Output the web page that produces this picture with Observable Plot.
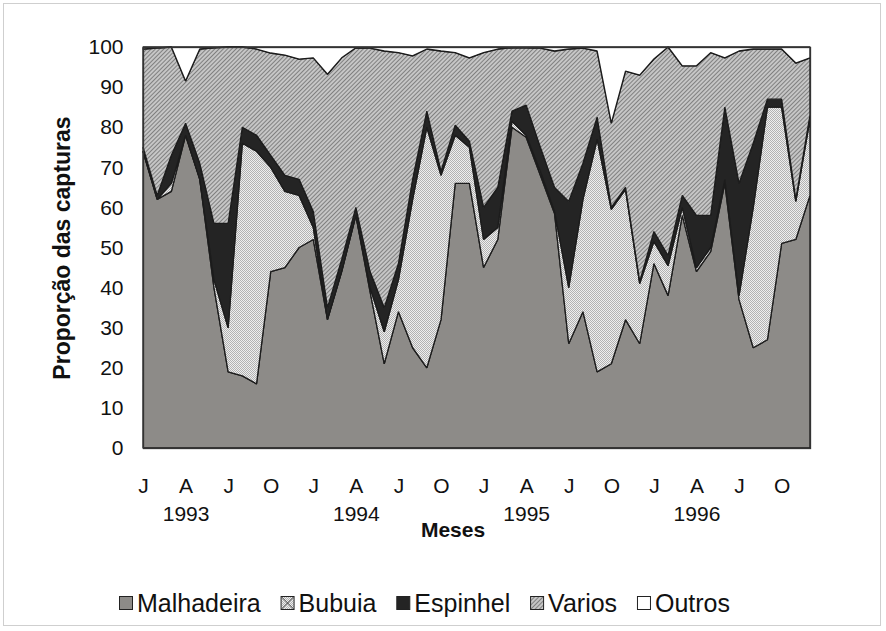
<!DOCTYPE html>
<html>
<head>
<meta charset="utf-8">
<script src="https://cdn.jsdelivr.net/npm/d3@7"></script>
<script src="https://cdn.jsdelivr.net/npm/@observablehq/plot@0.6"></script>
<style>
  html, body { margin: 0; padding: 0; background: #fff; }
  #wrap { position: relative; width: 886px; height: 631px; overflow: hidden; }
  #border { position: absolute; left: 3px; top: 3px; width: 878px; height: 623px; border: 1px solid #cfcfcf; box-sizing: border-box; pointer-events: none; }
  #chart, #legend { position: absolute; left: 0; }
  #chart { top: 0; }
  #legend { top: 575px; }
  svg { display: block; }
</style>
</head>
<body>
<div id="wrap"><div id="chart"></div><div id="legend"></div><div id="border"></div></div>
<script>
// month index 0 = Jan 1993 ... 47 = Dec 1996
const monthLabels = ["J", "A", "J", "O"];
const yearLabels = ["1993", "1994", "1995", "1996"];
const seriesNames = ["Malhadeira", "Bubuia", "Espinhel", "Varios", "Outros"];

const malhadeira = [74,62,64,78,67,40,19,18,16,44,45,50, 52,32,44,58,39,21,34,25,20,32,66,66, 45,52,80,77.5,68,58.5,26,34,19,21,32,26, 46,38,58,44,49,66,37,25,27,51,52,63];
const bubuia     = [0,0,2,0,0,2,11,58,58,26,19,13, 3,0,0,0,1,8,8,37,60,36,12,9, 7,3,1.5,0.5,1,0.5,14,28,58,38.5,32.5,15, 5.5,7.5,2,1,1,1,1,35,58,34,9.5,19];
const espinhel   = [1,1,7,3,4,14,26,4,4,3,4,4, 4,3,3,2,4,6,4,5,4,1,2.5,1.5, 8,10,2.5,7.5,6,6,21.5,9,5.5,0.5,0.5,0.5, 2.5,2.5,3,13,8,18,28,16,2,2,0.5,1];
const varios     = [24.5,36.7,27,10.5,28.5,43.8,44,20,21.5,25.5,30,30, 38.3,58.2,50.3,39.8,55.7,64,52.6,30.8,15.5,30,18.1,20.8, 38.6,34.5,15.8,14.3,24.7,34,38,28.7,16.5,21,29,51.5, 43,52,32.3,37.3,40.6,12.3,33,23.5,12.5,12.5,34,14.3];
const outros     = [0.5,0.3,0,8.5,0.5,0.2,0,0,0.5,1.5,2,3, 2.7,6.8,2.7,0.2,0.3,1,1.4,2.2,0.5,1,1.4,2.7, 1.4,0.5,0.2,0.2,0.3,1,0.5,0.3,1,19,6,7, 3,0,4.7,4.7,1.4,2.7,1,0.5,0.5,0.5,4,2.7];

const seriesValues = [malhadeira, bubuia, espinhel, varios, outros];
const fills = ["#8d8b88", "url(#pBubuia)", "#242424", "url(#pVarios)", "#ffffff"];

const data = [];
seriesNames.forEach((s, k) => seriesValues[k].forEach((v, i) => data.push({i, s, v})));

const FONT = '"Liberation Sans", Arial, Helvetica, sans-serif';

const chart = Plot.plot({
  width: 886,
  height: 575,
  marginLeft: 143,
  marginRight: 76,
  marginTop: 47,
  marginBottom: 127,
  style: {fontFamily: FONT, fontSize: "21px", color: "#111", background: "transparent"},
  x: {domain: [0, 47], axis: null},
  y: {domain: [0, 100], axis: null},
  color: {domain: seriesNames, range: fills},
  marks: [
    Plot.areaY(data, {x: "i", y: "v", z: "s", fill: "s", order: seriesNames,
      stroke: "#1c1c1c", strokeWidth: 1.3, strokeLinejoin: "miter"}),
    Plot.frame({stroke: "#333", strokeWidth: 1.3}),
    Plot.axisY({ticks: d3.range(0, 101, 10), tickSize: 0, tickPadding: 20, fontSize: 21, label: null}),
    Plot.axisX({ticks: d3.range(0, 48, 3), tickFormat: d => monthLabels[(d / 3) % 4],
      tickSize: 0, tickPadding: 30, fontSize: 21, label: null}),
    Plot.axisX({ticks: [3, 15, 27, 39], tickFormat: d => yearLabels[(d - 3) / 12],
      tickSize: 0, tickPadding: 58, fontSize: 21, label: null}),
    Plot.text(["Meses"], {frameAnchor: "bottom", lineAnchor: "middle", textAnchor: "middle", dy: 82, dx: -24,
      fontWeight: "bold", fontSize: 21}),
    Plot.text(["Proporção das capturas"], {frameAnchor: "left", textAnchor: "middle", lineAnchor: "middle",
      dx: -81, rotate: -90, fontWeight: "bold", fontSize: 23})
  ]
});

// patterns
const NS = "http://www.w3.org/2000/svg";
function el(name, attrs, parent) {
  const e = document.createElementNS(NS, name);
  for (const k in attrs) e.setAttribute(k, attrs[k]);
  if (parent) parent.appendChild(e);
  return e;
}
function addDefs(svg) {
  const defs = el("defs", {});
  const pv = el("pattern", {id: "pVarios", patternUnits: "userSpaceOnUse", width: 3, height: 3, patternTransform: "rotate(45)"}, defs);
  el("rect", {width: 3, height: 3, fill: "#c6c6c6"}, pv);
  el("rect", {width: 1, height: 3, fill: "#808080"}, pv);
  const pb = el("pattern", {id: "pBubuia", patternUnits: "userSpaceOnUse", width: 2, height: 2}, defs);
  el("rect", {width: 2, height: 2, fill: "#eeeeee"}, pb);
  el("rect", {width: 1, height: 1, fill: "#b2b2b2"}, pb);
  el("rect", {x: 1, y: 1, width: 1, height: 1, fill: "#b2b2b2"}, pb);
  svg.insertBefore(defs, svg.firstChild);
}
addDefs(chart);
document.getElementById("chart").appendChild(chart);

// legend (separate svg below the chart), items spread evenly between x=119 and x=730
const lg = el("svg", {width: 886, height: 56});
lg.style.fontFamily = FONT;
addDefs(lg);
document.getElementById("legend").appendChild(lg);
const texts = seriesNames.map(s => {
  const t = el("text", {x: 0, y: 36.5, "font-size": 25, fill: "#111"}, lg);
  t.textContent = s;
  return t;
});
const widths = texts.map(t => t.getComputedTextLength());
const itemW = widths.map(w => 13 + 5 + w);
const left = 119, right = 730;
const gap = (right - left - d3.sum(itemW)) / (seriesNames.length - 1);
let cx = left;
seriesNames.forEach((s, k) => {
  const sx = cx;
  el("rect", {x: sx + 0.5, y: 21.5, width: 13, height: 13, fill: fills[k], stroke: "#222", "stroke-width": 1}, lg);
  if (s === "Bubuia") {
    el("path", {d: `M${sx + 1},22L${sx + 13},34M${sx + 13},22L${sx + 1},34`, stroke: "#444", "stroke-width": 1}, lg);
  }
  texts[k].setAttribute("x", sx + 18);
  cx += itemW[k] + gap;
});
</script>
</body>
</html>
